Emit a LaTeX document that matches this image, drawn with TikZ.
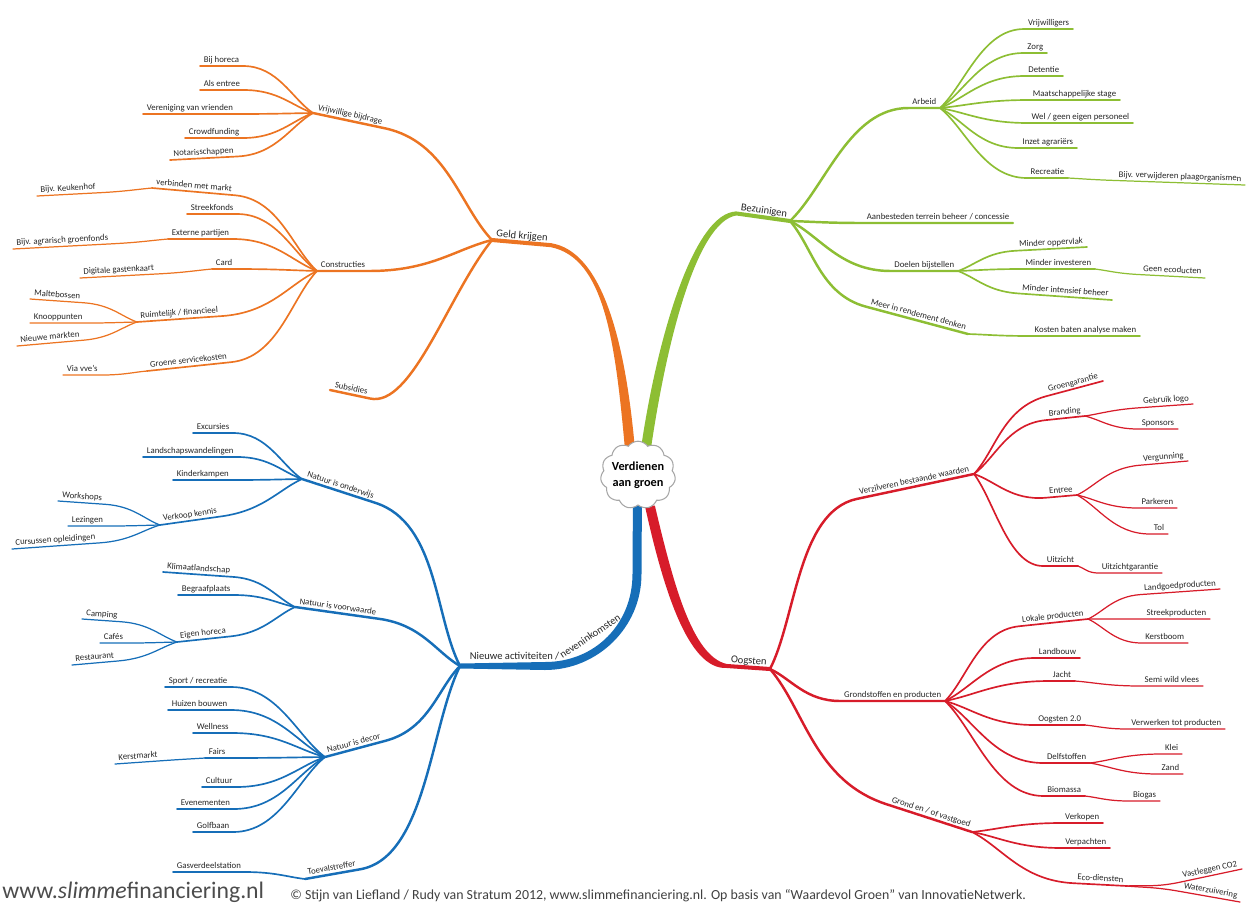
\documentclass[tikz,border=0pt]{standalone}
\usepackage{fontspec}
\setmainfont{Carlito}
\usetikzlibrary{calc,backgrounds,shapes.symbols}
\definecolor{orng}{RGB}{236,116,34}
\definecolor{grn}{RGB}{141,190,52}
\definecolor{rd}{RGB}{215,28,42}
\definecolor{blu}{RGB}{22,110,184}
\newcommand\lblfont{\fontsize{5}{6}\selectfont}
\newcommand\trunkfont{\fontsize{6}{7}\selectfont}

\begin{document}
\begin{tikzpicture}[x=0.02cm, y=-0.02cm,
    lbl/.style={font=\lblfont, text=black!85, inner xsep=2pt, inner ysep=.4pt, text height=1.3ex, text depth=.3ex},
    lside/.style={lbl, anchor=south west},
    rside/.style={lbl, anchor=south east},
    mainlbl/.style={font=\trunkfont},
    trunkend/.style={line width=2.3pt, line cap=round},
    bough/.style={line width=1.4pt, line cap=round},
    twig/.style={line width=.95pt, line cap=round},
    sprig/.style={line width=.7pt, line cap=round}]
  \useasboundingbox (0,0) rectangle (1259,904);
  % branch from a junction to the near end of a label, then under it
  \def\lbranch#1#2#3{\draw[#1] (#2) .. controls ($(#2)!.3!(#3.south east)$) and ($(#3.south east)!.5!($(#3.south east)!(#2)!(#3.south west)$)$) .. (#3.south east) -- (#3.south west);}
  \def\rbranch#1#2#3{\draw[#1] (#2) .. controls ($(#2)!.3!(#3.south west)$) and ($(#3.south west)!.5!($(#3.south west)!(#2)!(#3.south east)$)$) .. (#3.south west) -- (#3.south east);}

  \node[cloud, cloud puffs=11, cloud puff arc=110, aspect=1.15, draw=black!35, line width=.6pt, fill=white, inner sep=-1pt, align=center, font=\bfseries\fontsize{7}{9}\selectfont] (hub) at (638,475) {Verdienen\\aan groen};

  % Geld krijgen
  \node[lside, mainlbl, rotate=-5] (gk) at (492,240) {Geld krijgen};
  \node[lside, rotate=-12] (vb) at (313,113) {Vrijwillige bijdrage};
  \node[lside] (horeca) at (200,66) {Bij horeca};
  \node[lside] (entree) at (200,90) {Als entree};
  \node[lside] (vvv) at (143,114) {Vereniging van vrienden};
  \node[lside] (crowd) at (185,138) {Crowdfunding};
  \node[lside, rotate=3] (notaris) at (170,160) {Notarisschappen};
  \node[lside] (constr) at (317,271) {Constructies};
  \node[lside, rotate=-5] (markt) at (152,188) {verbinden met markt};
  \node[lside, rotate=3] (keukenhof) at (37,196) {Bijv. Keukenhof};
  \node[lside] (streek) at (187,214) {Streekfonds};
  \node[lside] (extern) at (168,239) {Externe partijen};
  \node[lside, rotate=3] (agrar) at (13,249) {Bijv. agrarisch groenfonds};
  \node[lside] (card) at (212,269) {Card};
  \node[lside, rotate=3] (gasten) at (80,278) {Digitale gastenkaart};
  \node[lside, rotate=4] (ruimte) at (137,322) {Ruimtelijk / financieel};
  \node[lside, rotate=-4] (malte) at (30,299) {Maltebossen};
  \node[lside] (knoop) at (30,323) {Knooppunten};
  \node[lside, rotate=5] (markten) at (17,346) {Nieuwe markten};
  \node[lside, rotate=6] (service) at (147,371) {Groene servicekosten};
  \node[lside] (vve) at (63,375) {Via vve's};
  \node[lside, rotate=-12] (subsidie) at (330,390) {Subsidies};

  % Bezuinigen
  \node[rside, mainlbl, rotate=-8] (bz) at (790,221) {Bezuinigen};
  \node[rside] (arbeid) at (940,108) {Arbeid};
  \node[rside] (vrijw) at (1073,29) {Vrijwilligers};
  \node[rside] (zorg) at (1047,53) {Zorg};
  \node[rside] (detentie) at (1063,76) {Detentie};
  \node[rside] (stage) at (1120,100) {Maatschappelijke stage};
  \node[rside] (personeel) at (1133,123) {Wel / geen eigen personeel};
  \node[rside] (inzet) at (1077,148) {Inzet agrariërs};
  \node[rside] (recreatie) at (1068,178) {Recreatie};
  \node[rside, rotate=-2] (plaag) at (1245,185) {Bijv. verwijderen plaagorganismen};
  \node[rside] (aanbest) at (1013,223) {Aanbesteden terrein beheer / concessie};
  \node[rside] (doelen) at (958,271) {Doelen bijstellen};
  \node[rside, rotate=3] (opp) at (1087,247) {Minder oppervlak};
  \node[rside] (invest) at (1095,269) {Minder investeren};
  \node[rside, rotate=-3] (ecoduct) at (1205,278) {Geen ecoducten};
  \node[rside, rotate=-4] (intensief) at (1112,300) {Minder intensief beheer};
  \node[rside, rotate=-15] (rendement) at (968,334) {Meer in rendement denken};
  \node[rside] (kosten) at (1140,336) {Kosten baten analyse maken};

  % Oogsten
  \node[rside, mainlbl, rotate=-4] (oogst) at (770,669) {Oogsten};
  \node[rside, rotate=12] (verzilver) at (974,474) {Verzilveren bestaande waarden};
  \node[rside, rotate=15] (groengar) at (1103,381) {Groengarantie};
  \node[rside, rotate=6] (branding) at (1085,416) {Branding};
  \node[rside, rotate=4] (logo) at (1193,404) {Gebruik logo};
  \node[rside] (sponsor) at (1178,429) {Sponsors};
  \node[rside, rotate=5] (entr) at (1077,495) {Entree};
  \node[rside, rotate=5] (vergun) at (1188,461) {Vergunning};
  \node[rside] (parkeren) at (1177,508) {Parkeren};
  \node[rside] (tol) at (1168,534) {Tol};
  \node[rside] (uitzicht) at (1078,566) {Uitzicht};
  \node[rside] (uitzgar) at (1162,573) {Uitzichtgarantie};
  \node[rside] (grondst) at (945,701) {Grondstoffen en producten};
  \node[rside, rotate=6] (lokaal) at (1088,619) {Lokale producten};
  \node[rside, rotate=4] (landgoed) at (1220,589) {Landgoedproducten};
  \node[rside] (streekp) at (1210,619) {Streekproducten};
  \node[rside] (kerst) at (1188,643) {Kerstboom};
  \node[rside] (landbouw) at (1080,658) {Landbouw};
  \node[rside] (jacht) at (1075,681) {Jacht};
  \node[rside] (vlees) at (1203,686) {Semi wild vlees};
  \node[rside] (oogst2) at (1085,725) {Oogsten 2.0};
  \node[rside] (verwerk) at (1225,729) {Verwerken tot producten};
  \node[rside] (delf) at (1090,763) {Delfstoffen};
  \node[rside] (klei) at (1182,754) {Klei};
  \node[rside] (zand) at (1183,774) {Zand};
  \node[rside] (biomassa) at (1085,796) {Biomassa};
  \node[rside] (biogas) at (1160,801) {Biogas};
  \node[rside, rotate=-18] (vastgoed) at (972,832) {Grond en / of vastgoed};
  \node[rside] (verkopen) at (1103,823) {Verkopen};
  \node[rside] (verpacht) at (1110,848) {Verpachten};
  \node[rside, rotate=-3] (ecodienst) at (1127,886) {Eco-diensten};
  \node[rside, rotate=12] (co2) at (1242,869) {Vastleggen CO2};
  \node[rside, rotate=-10] (water) at (1240,902) {Waterzuivering};

  % Nieuwe activiteiten
  \coordinate (na) at (460,666);
  \node[lside, mainlbl] (nieuw) at (466,663) {Nieuwe activiteiten /};
  \node[lbl, mainlbl, anchor=south, rotate=34] (neven) at (594,642) {neveninkomsten};
  \node[lside, rotate=-18] (onderwijs) at (302,479) {Natuur is onderwijs};
  \node[lside] (excursie) at (193,433) {Excursies};
  \node[lside] (wandel) at (143,457) {Landschapswandelingen};
  \node[lside] (kamp) at (173,480) {Kinderkampen};
  \node[lside, rotate=8] (kennis) at (160,525) {Verkoop kennis};
  \node[lside, rotate=-4] (workshop) at (58,501) {Workshops};
  \node[lside] (lezing) at (68,526) {Lezingen};
  \node[lside, rotate=4] (cursus) at (12,549) {Cursussen opleidingen};
  \node[lside, rotate=-8] (voorwaarde) at (295,607) {Natuur is voorwaarde};
  \node[lside, rotate=-4] (klimaat) at (163,572) {Klimaatlandschap};
  \node[lside] (begraaf) at (178,595) {Begraafplaats};
  \node[lside, rotate=6] (horeca2) at (177,642) {Eigen horeca};
  \node[lside, rotate=-4] (camping) at (82,619) {Camping};
  \node[lside] (cafe) at (100,643) {Cafés};
  \node[lside, rotate=5] (restaurant) at (72,665) {Restaurant};
  \node[lside, rotate=15] (decor) at (325,757) {Natuur is decor};
  \node[lside] (sport) at (165,687) {Sport / recreatie};
  \node[lside] (huizen) at (168,710) {Huizen bouwen};
  \node[lside] (wellness) at (193,733) {Wellness};
  \node[lside] (fairs) at (205,758) {Fairs};
  \node[lside, rotate=4] (kerstm) at (115,764) {Kerstmarkt};
  \node[lside] (cultuur) at (202,787) {Cultuur};
  \node[lside] (evenement) at (177,809) {Evenementen};
  \node[lside] (golf) at (193,832) {Golfbaan};
  \node[lside, rotate=10] (toeval) at (305,879) {Toevalstreffer};
  \node[lside] (gasverd) at (173,872) {Gasverdeelstation};

  % orange
  \lbranch{bough,orng}{gk.south west}{vb}
  \lbranch{bough,orng}{gk.south west}{constr}
  \draw[bough, orng] (gk.south west) .. controls (448,295) and (412,408) .. (subsidie.south east) -- (subsidie.south west);
  \foreach \nd in {horeca,entree,vvv,crowd,notaris} {\lbranch{twig,orng}{vb.south west}{\nd}}
  \foreach \nd in {markt,streek,extern,card,ruimte,service} {\lbranch{twig,orng}{constr.south west}{\nd}}
  \lbranch{sprig,orng}{markt.south west}{keukenhof}
  \lbranch{sprig,orng}{extern.south west}{agrar}
  \lbranch{sprig,orng}{card.south west}{gasten}
  \foreach \nd in {malte,knoop,markten} {\lbranch{sprig,orng}{ruimte.south west}{\nd}}
  \lbranch{sprig,orng}{service.south west}{vve}

  % green
  \foreach \nd in {arbeid,aanbest,doelen,rendement} {\rbranch{bough,grn}{bz.south east}{\nd}}
  \foreach \nd in {vrijw,zorg,detentie,stage,personeel,inzet,recreatie} {\rbranch{twig,grn}{arbeid.south east}{\nd}}
  \rbranch{sprig,grn}{recreatie.south east}{plaag}
  \foreach \nd in {opp,invest,intensief} {\rbranch{twig,grn}{doelen.south east}{\nd}}
  \rbranch{sprig,grn}{invest.south east}{ecoduct}
  \rbranch{twig,grn}{rendement.south east}{kosten}

  % red
  \foreach \nd in {verzilver,grondst,vastgoed} {\rbranch{bough,rd}{oogst.south east}{\nd}}
  \foreach \nd in {groengar,branding,entr,uitzicht} {\rbranch{twig,rd}{verzilver.south east}{\nd}}
  \foreach \nd in {logo,sponsor} {\rbranch{sprig,rd}{branding.south east}{\nd}}
  \foreach \nd in {vergun,parkeren,tol} {\rbranch{sprig,rd}{entr.south east}{\nd}}
  \rbranch{sprig,rd}{uitzicht.south east}{uitzgar}
  \foreach \nd in {lokaal,landbouw,jacht,oogst2,delf,biomassa} {\rbranch{twig,rd}{grondst.south east}{\nd}}
  \foreach \nd in {landgoed,streekp,kerst} {\rbranch{sprig,rd}{lokaal.south east}{\nd}}
  \rbranch{sprig,rd}{jacht.south east}{vlees}
  \rbranch{sprig,rd}{oogst2.south east}{verwerk}
  \foreach \nd in {klei,zand} {\rbranch{sprig,rd}{delf.south east}{\nd}}
  \rbranch{sprig,rd}{biomassa.south east}{biogas}
  \foreach \nd in {verkopen,verpacht,ecodienst} {\rbranch{twig,rd}{vastgoed.south east}{\nd}}
  \foreach \nd in {co2,water} {\rbranch{sprig,rd}{ecodienst.south east}{\nd}}

  % blue
  \foreach \nd in {onderwijs,voorwaarde,decor,toeval} {\lbranch{bough,blu}{na}{\nd}}
  \foreach \nd in {excursie,wandel,kamp,kennis} {\lbranch{twig,blu}{onderwijs.south west}{\nd}}
  \foreach \nd in {workshop,lezing,cursus} {\lbranch{sprig,blu}{kennis.south west}{\nd}}
  \foreach \nd in {klimaat,begraaf,horeca2} {\lbranch{twig,blu}{voorwaarde.south west}{\nd}}
  \foreach \nd in {camping,cafe,restaurant} {\lbranch{sprig,blu}{horeca2.south west}{\nd}}
  \foreach \nd in {sport,huizen,wellness,fairs,cultuur,evenement,golf} {\lbranch{twig,blu}{decor.south west}{\nd}}
  \lbranch{sprig,blu}{fairs.south west}{kerstm}
  \lbranch{twig,blu}{toeval.south west}{gasverd}

  % main branches, tapering, behind the cloud
  \begin{scope}[on background layer]
    \fill[orng] ($(hub.105)+(-5,2)$) .. controls (615,340) and (604,258) .. ($(gk.south east)+(0,2)$)
      -- ($(gk.south east)+(0,-2)$) .. controls (602,251) and (625,340) .. ($(hub.105)+(5,2)$) -- cycle;
    \draw[trunkend, orng] (gk.south east) -- (gk.south west);
    \fill[grn] ($(hub.75)+(-5,2)$) .. controls (657,340) and (693,213) .. ($(bz.south west)+(0,-2)$)
      -- ($(bz.south west)+(0,2)$) .. controls (697,222) and (667,340) .. ($(hub.75)+(5,2)$) -- cycle;
    \draw[trunkend, grn] (bz.south west) -- (bz.south east);
    \fill[rd] ($(hub.-70)+(-5,-2)$) .. controls (663,588) and (688,670) .. ($(oogst.south west)+(0,2)$)
      -- ($(oogst.south west)+(0,-2)$) .. controls (692,656) and (673,582) .. ($(hub.-70)+(5,-2)$) -- cycle;
    \draw[trunkend, rd] (oogst.south west) -- (oogst.south east);
    \fill[blu] ($(hub.-92)+(5,-2)$) -- (641.5,574) .. controls (641.5,628) and (597,670) .. (545,670) -- ($(na)+(0,2.5)$)
      -- ($(na)+(0,-2.5)$) -- (545,662) .. controls (595,662) and (632.5,624) .. (632.5,574) -- ($(hub.-92)+(-4,-2)$) -- cycle;
  \end{scope}

  % footer
  \node[anchor=base west, inner sep=0pt, text=black!70, font=\fontsize{13.5}{15}\selectfont] (site) at (2,898) {www.\textit{slimme}financiering.nl};
  \node[anchor=base west, inner sep=0pt, text=black!75, font=\fontsize{7.9}{9}\selectfont] (credit) at (290,899) {© Stijn van Liefland / Rudy van Stratum 2012, www.slimmefinanciering.nl. Op basis van “Waardevol Groen” van InnovatieNetwerk.};
\end{tikzpicture}
\end{document}
